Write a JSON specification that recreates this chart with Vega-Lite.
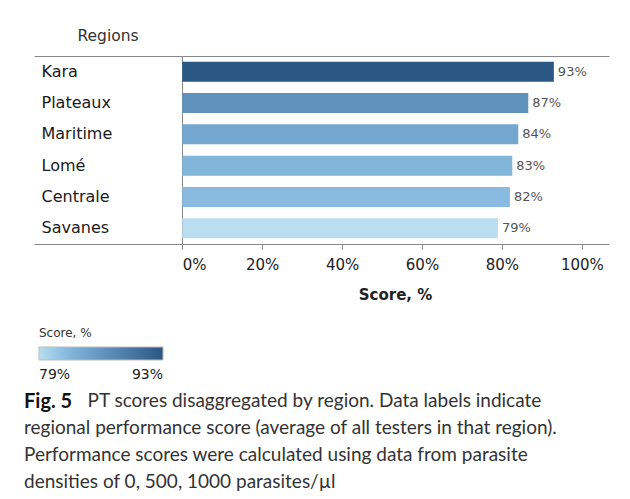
{
  "$schema": "https://vega.github.io/schema/vega-lite/v6.json",
  "width": 575,
  "height": 188,
  "autosize": {"type": "none"},
  "padding": {"left": 34, "top": 56, "right": 21, "bottom": 255},
  "background": "white",
  "data": {
    "values": [
      {"Region": "Kara", "Score": 0.93},
      {"Region": "Plateaux", "Score": 0.866},
      {"Region": "Maritime", "Score": 0.841},
      {"Region": "Lomé", "Score": 0.826},
      {"Region": "Centrale", "Score": 0.82},
      {"Region": "Savanes", "Score": 0.79}
    ]
  },
  "title": {
    "text": "Fig.\u00a05",
    "subtitle": [
      "regional performance score (average of all testers in that region).",
      "Performance scores were calculated using data from parasite",
      "densities of 0, 500, 1000 parasites/µl"
    ],
    "orient": "bottom",
    "anchor": "start",
    "frame": "group",
    "dx": -10,
    "offset": -18.5,
    "font": "Lato",
    "fontSize": 20,
    "fontWeight": "bold",
    "color": "#111",
    "subtitleFont": "Lato",
    "subtitleFontSize": 19,
    "subtitleColor": "#333",
    "subtitleLineHeight": 27,
    "subtitlePadding": 7
  },
  "layer": [
    {
      "mark": {"type": "bar"},
      "encoding": {
        "y": {
          "field": "Region",
          "type": "nominal",
          "sort": null,
          "scale": {"paddingInner": 0.36, "paddingOuter": 0.18},
          "axis": {
            "title": "Regions",
            "titleAngle": 0,
            "titleAlign": "left",
            "titleBaseline": "alphabetic",
            "titleX": 43,
            "titleY": -16,
            "titleFont": "DejaVu Sans",
            "titleFontSize": 15.5,
            "titleFontWeight": "normal",
            "titleColor": "#333",
            "domain": false,
            "ticks": false,
            "tickSize": 0,
            "grid": false,
            "labelAlign": "left",
            "labelBaseline": "middle",
            "labelPadding": -7,
            "labelFont": "DejaVu Sans",
            "labelFontSize": 16,
            "labelColor": "#1a1a1a"
          }
        },
        "x": {
          "field": "Score",
          "type": "quantitative",
          "scale": {"domain": [-0.371, 1.068], "nice": false, "zero": false},
          "axis": {
            "orient": "bottom",
            "title": "Score, %",
            "values": [0, 0.2, 0.4, 0.6, 0.8, 1],
            "format": ".0%",
            "domainColor": "#888",
            "tickColor": "#888",
            "tickSize": 5,
            "labelFlush": false,
            "labelOverlap": false,
            "labelFont": "DejaVu Sans",
            "labelFontSize": 15,
            "labelColor": "#222",
            "labelPadding": 8,
            "labelAlign": {"condition": {"test": "datum.value === 0", "value": "left"}, "value": "center"},
            "titleFont": "DejaVu Sans",
            "titleFontSize": 15,
            "titleFontWeight": "bold",
            "titleColor": "#222",
            "titleX": 361,
            "titleY": 55,
            "titleAlign": "center",
            "titleBaseline": "alphabetic",
            "grid": true,
            "gridColor": "#888",
            "gridOpacity": {"condition": {"test": "datum.value === 0", "value": 1}, "value": 0}
          }
        },
        "color": {
          "field": "Score",
          "type": "quantitative",
          "scale": {
            "domain": [0.79, 0.82, 0.841, 0.866, 0.93],
            "range": ["#b9ddf1", "#88bbdf", "#73a7cf", "#5f91bd", "#2a5783"]
          },
          "legend": {
            "orient": "none",
            "legendX": 5,
            "legendY": 272,
            "direction": "horizontal",
            "title": "Score, %",
            "titleFont": "DejaVu Sans",
            "titleFontSize": 12,
            "titleFontWeight": "normal",
            "titleColor": "#333",
            "titlePadding": 7,
            "gradientLength": 124,
            "gradientThickness": 13,
            "gradientStrokeColor": "#bbb",
            "gradientStrokeWidth": 1,
            "values": [0.79, 0.93],
            "format": ".0%",
            "labelFont": "DejaVu Sans",
            "labelFontSize": 14,
            "labelColor": "#222",
            "labelOffset": 8,
            "labelOverlap": false
          }
        }
      }
    },
    {
      "mark": {"type": "text", "align": "left", "baseline": "middle", "dx": 4, "font": "DejaVu Sans", "fontSize": 13, "color": "#555"},
      "encoding": {
        "y": {"field": "Region", "type": "nominal", "sort": null},
        "x": {
          "field": "Score",
          "type": "quantitative",
          "axis": {
            "orient": "top",
            "labels": false,
            "ticks": false,
            "grid": false,
            "domain": true,
            "domainColor": "#888",
            "title": "PT scores disaggregated by region. Data labels indicate",
            "titleFont": "Lato",
            "titleFontSize": 19,
            "titleFontWeight": "normal",
            "titleColor": "#333",
            "titleAlign": "left",
            "titleBaseline": "alphabetic",
            "titleAnchor": "start",
            "titleX": 53,
            "titleY": 350.5
          }
        },
        "text": {"field": "Score", "type": "quantitative", "format": ".0%"}
      }
    }
  ],
  "resolve": {"axis": {"x": "independent"}},
  "config": {
    "view": {"stroke": null}
  }
}
